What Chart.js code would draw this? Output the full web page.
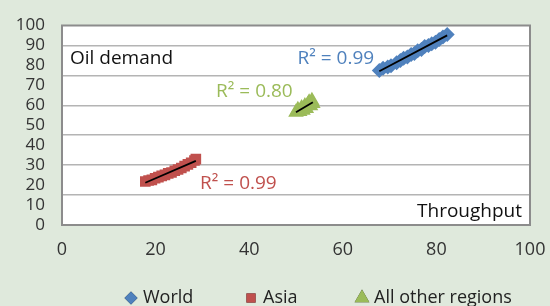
<!DOCTYPE html>
<html>
<head>
<meta charset="utf-8">
<script src="https://cdn.jsdelivr.net/npm/chart.js@4"></script>
<style>
  html, body { margin: 0; padding: 0; background: #dfe9dc; overflow: hidden; }
  #wrap { width: 550px; height: 306px; position: relative; }
</style>
</head>
<body>
<div id="wrap"><canvas id="oilChart" width="550" height="306"></canvas></div>
<script>
// World: refinery throughput vs oil demand
const worldX = [67.8, 68.6, 69.6, 70.3, 71.5, 72.3, 73.0, 73.8, 74.6, 75.3, 76.0, 76.8, 77.5, 78.3, 79.0, 79.8, 80.6, 81.4, 82.3];
const worldY = [77.5, 78.6, 79.2, 79.8, 81.3, 82.5, 83.6, 84.2, 85.5, 86.0, 87.4, 88.0, 89.5, 90.0, 90.8, 91.6, 93.0, 94.2, 95.5];
// Asia
const asiaX = [17.8, 18.5, 19.2, 19.9, 20.6, 21.3, 22.0, 22.7, 23.4, 24.1, 24.8, 25.5, 26.2, 26.9, 27.6, 28.3, 28.6];
const asiaY = [21.8, 22.3, 22.6, 23.4, 24.0, 24.6, 25.1, 25.9, 26.3, 27.2, 27.8, 28.6, 29.5, 30.4, 31.2, 32.3, 33.0];
// All other regions
const otherX = [50.0, 50.4, 50.8, 51.2, 51.5, 51.9, 52.2, 52.5, 52.8, 53.1, 53.4, 53.6];
const otherY = [56.5, 57.8, 56.9, 58.6, 57.5, 59.7, 58.4, 60.3, 61.5, 59.8, 62.3, 60.9];

const seriesNames = ['World', 'Asia', 'All other regions'];
const seriesColors = ['#4f81bd', '#c0504d', '#9bbb59'];
const seriesStyles = ['rectRot', 'rect', 'triangle'];
const r2Labels = ['R\u00b2 = 0.99', 'R\u00b2 = 0.99', 'R\u00b2 = 0.80'];

const xTicks = [0, 20, 40, 60, 80, 100];

const FONT = '"Open Sans", "Noto Sans", sans-serif';

function toPoints(xs, ys) {
  return xs.map((x, i) => ({ x: x, y: ys[i] }));
}

//least squares line over the range of the series
function trendLine(xs, ys) {
  const n = xs.length;
  const mx = xs.reduce((a, b) => a + b, 0) / n;
  const my = ys.reduce((a, b) => a + b, 0) / n;
  let sxy = 0, sxx = 0;
  for (let i = 0; i < n; i++) {
    sxy += (xs[i] - mx) * (ys[i] - my);
    sxx += (xs[i] - mx) * (xs[i] - mx);
  }
  const b = sxy / sxx;
  const a = my - b * mx;
  const x0 = Math.min(...xs), x1 = Math.max(...xs);
  return [{ x: x0, y: a + b * x0 }, { x: x1, y: a + b * x1 }];
}

const pointSets = [toPoints(worldX, worldY), toPoints(asiaX, asiaY), toPoints(otherX, otherY)];
const trendSets = [trendLine(worldX, worldY), trendLine(asiaX, asiaY), trendLine(otherX, otherY)];
const pointSizes = [7.5, 7.5, 9];

const datasets = [];
pointSets.forEach((pts, i) => {
  datasets.push({
    label: seriesNames[i],
    data: pts,
    pointStyle: seriesStyles[i],
    pointRadius: pointSizes[i],
    backgroundColor: seriesColors[i],
    borderColor: seriesColors[i],
    borderWidth: 0,
    order: 2
  });
});
trendSets.forEach((pts) => {
  datasets.push({
    label: '',
    type: 'line',
    data: pts,
    borderColor: '#000000',
    borderWidth: 1.8,
    pointRadius: 0,
    fill: false,
    order: 1
  });
});

//text labels: R² values, axis captions, legend
const labelsPlugin = {
  id: 'labels',
  afterDraw(chart) {
    const ctx = chart.ctx;
    const xs = chart.scales.x, ys = chart.scales.y;
    const area = chart.chartArea;
    ctx.save();
    ctx.font = '19px ' + FONT;
    ctx.textBaseline = 'middle';

    ctx.fillStyle = seriesColors[0];
    ctx.textAlign = 'right';
    ctx.fillText(r2Labels[0], xs.getPixelForValue(66.7), ys.getPixelForValue(83.5));

    ctx.fillStyle = seriesColors[2];
    ctx.textAlign = 'right';
    ctx.fillText(r2Labels[2], xs.getPixelForValue(49.3), ys.getPixelForValue(67));

    ctx.fillStyle = seriesColors[1];
    ctx.textAlign = 'left';
    ctx.fillText(r2Labels[1], xs.getPixelForValue(29.5), ys.getPixelForValue(21));

    ctx.fillStyle = '#111111';
    ctx.textAlign = 'left';
    ctx.fillText('Oil demand', area.left + 8, ys.getPixelForValue(83.5));
    ctx.textAlign = 'right';
    ctx.fillText('Throughput', area.right - 8, ys.getPixelForValue(6.5));

    //legend
    ctx.font = '18px ' + FONT;
    const legendY = 298;
    const legendX = [131, 251, 362];
    for (let i = 0; i < 3; i++) {
      Chart.helpers.drawPoint(ctx, {
        pointStyle: seriesStyles[i],
        radius: i === 2 ? 8.5 : 6.5,
        rotation: 0
      }, legendX[i], legendY);
      ctx.fillStyle = seriesColors[i];
      ctx.fill();
      ctx.fillStyle = '#222222';
      ctx.textAlign = 'left';
      ctx.fillText(seriesNames[i], legendX[i] + 12, legendY);
    }
    ctx.restore();
  }
};

const areaPlugin = {
  id: 'areaBg',
  beforeDraw(chart) {
    const ctx = chart.ctx, a = chart.chartArea;
    ctx.save();
    ctx.fillStyle = '#dfe9dc';
    ctx.fillRect(0, 0, chart.width, chart.height);
    ctx.fillStyle = '#ffffff';
    ctx.fillRect(a.left, a.top, a.right - a.left, a.bottom - a.top);
    ctx.restore();
  },
  afterDatasetsDraw(chart) {
    const ctx = chart.ctx, a = chart.chartArea;
    ctx.save();
    ctx.strokeStyle = '#8c8c8c';
    ctx.lineWidth = 2;
    ctx.strokeRect(a.left, a.top, a.right - a.left, a.bottom - a.top);
    ctx.restore();
  }
};

new Chart(document.getElementById('oilChart'), {
  type: 'scatter',
  data: { datasets: datasets },
  options: {
    responsive: false,
    animation: false,
    layout: { padding: { top: 13, right: 20, left: 0, bottom: 0 } },
    plugins: {
      legend: { display: false },
      tooltip: { enabled: false }
    },
    scales: {
      x: {
        min: 0,
        max: 100,
        afterBuildTicks: (scale) => { scale.ticks = xTicks.map(v => ({ value: v })); },
        afterFit: (scale) => {
          scale.height = 81;
          scale.paddingLeft = 0;
          scale.paddingRight = 0;
        },
        grid: { display: false, drawTicks: false },
        border: { display: false },
        ticks: {
          padding: 14,
          color: '#333333',
          font: { family: FONT, size: 18 }
        }
      },
      y: {
        min: 0,
        max: 100,
        afterFit: (scale) => { scale.width = 62; },
        grid: {
          drawTicks: false,
          color: (c) => (c.tick && c.tick.value % 15 === 0 ? '#b4b4b4' : 'rgba(0,0,0,0)'),
          lineWidth: 1.5
        },
        border: { display: false },
        ticks: {
          stepSize: 5,
          autoSkip: false,
          padding: 17,
          color: '#333333',
          font: { family: FONT, size: 17, lineHeight: 1 },
          callback: (v) => (v % 10 === 0 ? v : '')
        }
      }
    }
  },
  plugins: [areaPlugin, labelsPlugin]
});
</script>
</body>
</html>
